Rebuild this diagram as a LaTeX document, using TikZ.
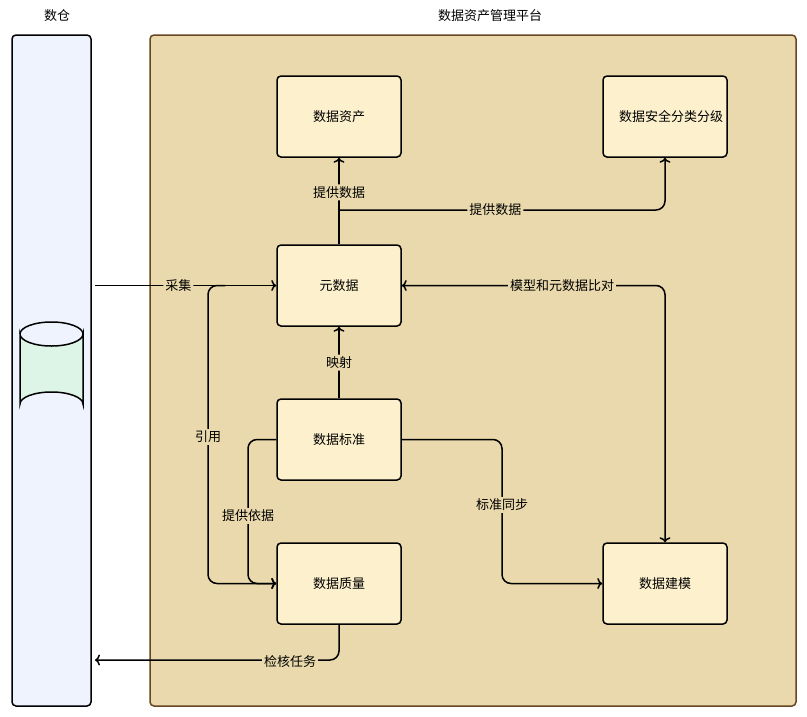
\documentclass[tikz,border=0pt]{standalone}
\usepackage{fontspec}
\newfontfamily\cjk{Noto Sans CJK SC}
\usetikzlibrary{arrows.meta}
\definecolor{panelfill}{HTML}{E9D9AC}
\definecolor{boxfill}{HTML}{FDF1CD}
\definecolor{dwfill}{HTML}{EEF3FD}
\definecolor{cylfill}{HTML}{DDF5E7}
\tikzset{
	box/.style={draw, line width=1.5pt, rounded corners=4pt, fill=boxfill, minimum width=124pt, minimum height=81pt, align=center, text width=92pt, font=\cjk\fontsize{13}{21}\selectfont},
	line/.style={draw, line width=1.5pt, -{To[length=5pt,width=11pt]}, rounded corners=9pt},
	lbl/.style={fill=panelfill, inner sep=2pt, font=\cjk\fontsize{13}{15}\selectfont},
	ttl/.style={font=\cjk\fontsize{13}{15}\selectfont}
}
\begin{document}
\begin{tikzpicture}[x=1pt,y=-1pt]
	\useasboundingbox (0,0) rectangle (807,716);
	% Hintergrund
	\draw[line width=1.5pt, rounded corners=4pt, fill=dwfill] (12,35) rectangle (91,706);
	\draw[line width=1.5pt, draw=black!45!brown, rounded corners=4pt, fill=panelfill] (150,35) rectangle (796,706);
	\node[ttl] (tdw) at (57,16) {数仓};
	\node[ttl] (tpf) at (490,16) {数据资产管理平台};
	% Zylinder
	\draw[line width=1.5pt, fill=cylfill] (20,334) -- (20,404) arc (180:360:31.5 and 12) -- (83,334) arc (0:180:31.5 and 12) -- cycle;
	\draw[line width=1.5pt] (20,334) arc (180:360:31.5 and 12);
	% Knoten
	\node[box] (zc) at (339,116.5) {数据资产};
	\node[box] (aq) at (665,116.5) {数据安全分类分级};
	\node[box] (ys) at (339,285.5) {元数据};
	\node[box] (bz) at (339,439.5) {数据标准};
	\node[box] (zl) at (339,583.5) {数据质量};
	\node[box] (jm) at (665,583.5) {数据建模};
	\coordinate (cj) at (95,285.5);
	\coordinate (ck) at (95,660);
	\coordinate (yy) at (225,285.5);
	% Verbindungen
	\draw[line] (ys.north) -- (zc.south) node[pos=0.6, lbl] {提供数据};
	\draw[line] (339,210) -- (665,210) node[pos=0.48, lbl] {提供数据} -- (aq.south);
	\draw[line] (cj) -- (ys.west) node[pos=0.46, lbl] {采集};
	\draw[line] (yy) -- (208,285.5) -- (208,583.5) -- (zl.west);
	\node[lbl] (lyy) at (208,437) {引用};
	\draw[line] (bz.west) -- (248,439.5) -- (248,583.5) -- (zl.west);
	\node[lbl] (lyj) at (248,516) {提供依据};
	\draw[line, {To[length=5pt,width=11pt]}-{To[length=5pt,width=11pt]}] (ys.east) -- (665,285.5) -- (jm.north);
	\node[lbl] (ldb) at (562,285.5) {模型和元数据比对};
	\draw[line] (bz.north) -- (ys.south) node[midway, lbl] {映射};
	\draw[line] (bz.east) -- (502,439.5) -- (502,583.5) -- (jm.west);
	\node[lbl] (ltb) at (502,505) {标准同步};
	\draw[line] (zl.south) -- (339,660) -- (ck);
	\node[lbl] (ljh) at (290,662) {检核任务};
\end{tikzpicture}
\end{document}
